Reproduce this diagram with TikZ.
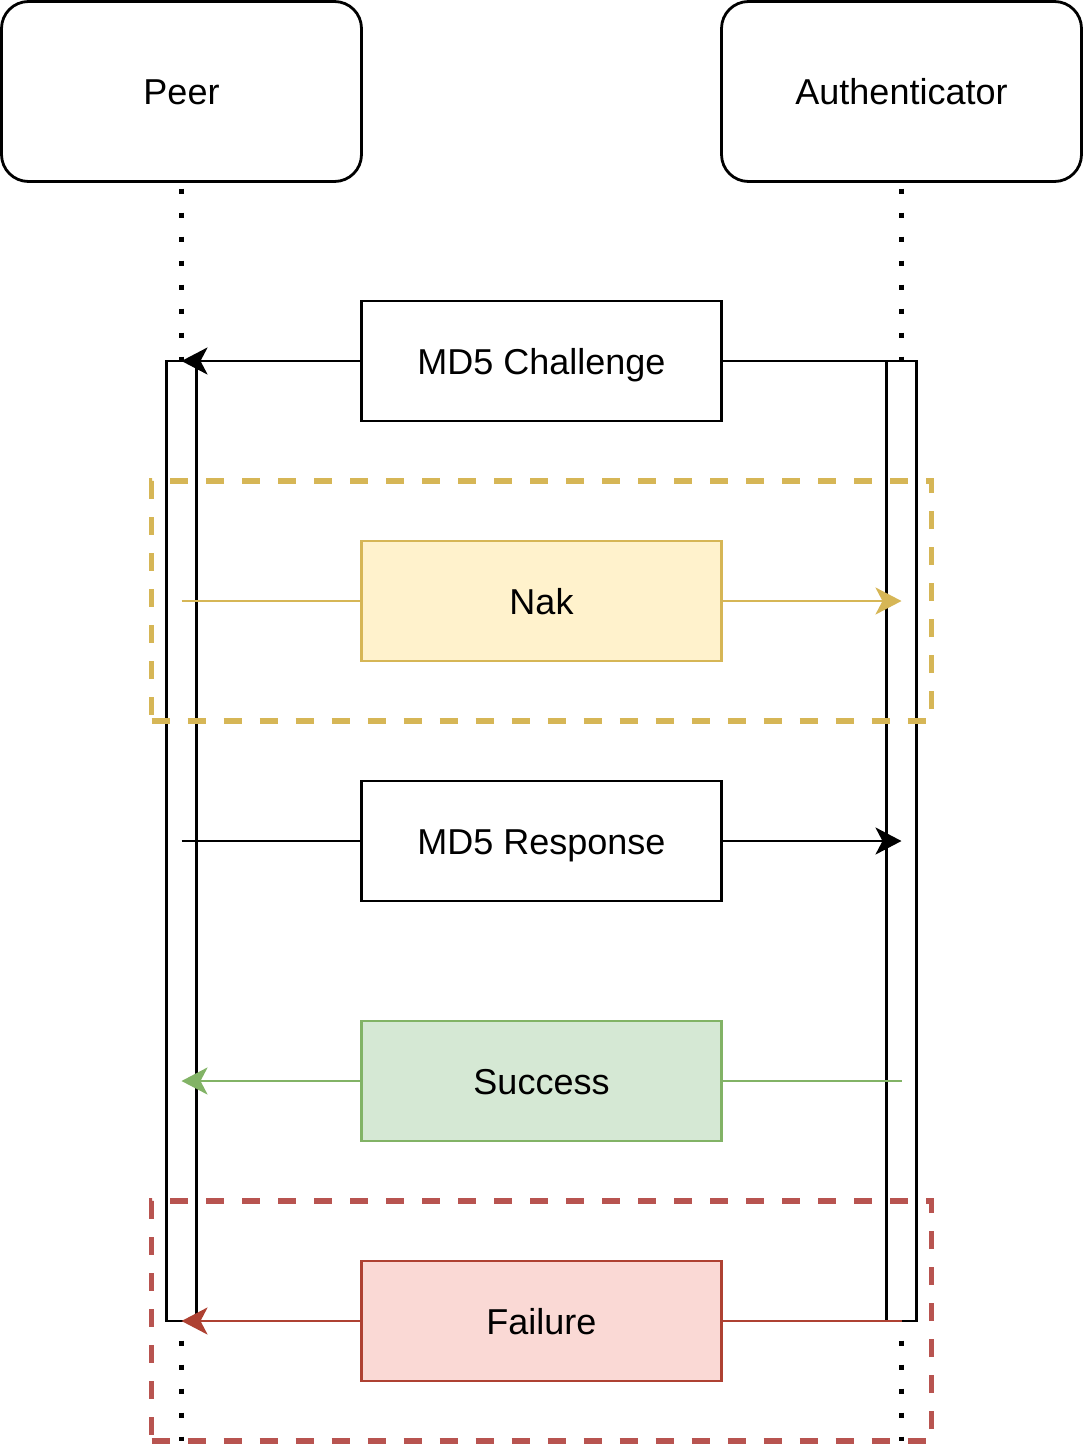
\documentclass[tikz,border=0pt]{standalone}
\usepackage{fontspec}
\setmainfont{Liberation Sans}
\usetikzlibrary{arrows.meta}
\definecolor{ylwS}{HTML}{D6B656}
\definecolor{ylwF}{HTML}{FFF2CC}
\definecolor{grnS}{HTML}{82B366}
\definecolor{grnF}{HTML}{D5E8D4}
\definecolor{redS}{HTML}{AE4132}
\definecolor{redF}{HTML}{FAD9D5}
\definecolor{redG}{HTML}{B85450}
\begin{document}
\begin{tikzpicture}[x=1pt,y=-1pt,
  actor/.style={draw, line width=2.8pt, rounded corners=27pt, fill=white,
    minimum width=360pt, minimum height=180pt, inner sep=0pt, outer sep=0pt,
    font=\fontsize{36}{43}\selectfont, text height=26pt, text depth=0pt},
  msgbox/.style={draw, line width=2.8pt, fill=white,
    minimum width=360pt, minimum height=120pt, inner sep=0pt, outer sep=0pt,
    font=\fontsize{36}{43}\selectfont, text height=26pt, text depth=0pt},
  actbar/.style={draw, line width=2.8pt, fill=white,
    minimum width=30pt, minimum height=960pt, inner sep=0pt, outer sep=0pt},
  lifeline/.style={line width=5.5pt, dash pattern=on 5.5pt off 18.5pt, dash phase=17pt},
  grpbox/.style={draw, line width=5.5pt, dash pattern=on 18pt off 18pt,
    minimum width=780pt, minimum height=240pt, inner sep=0pt, outer sep=0pt},
  msgline/.style={line width=2.9pt},
  tipped/.style={-{Stealth[length=26pt,width=27pt,inset=7pt]}}
]
\useasboundingbox (0,0) rectangle (1083,1449);

% actors
\node[actor] (peer) at (181.5,91.5) {Peer};
\node[actor] (auth) at (901.5,91.5) {Authenticator};

% lifeline ends
\coordinate (pend) at (181.5,1441);
\coordinate (aend) at (901.5,1441);
\draw[lifeline] (peer.south) -- (pend);
\draw[lifeline] (auth.south) -- (aend);

% activation bars
\node[actbar] (pact) at (181.5,841) {};
\node[actbar] (aact) at (901.5,841) {};

% message anchor points on lifelines
\coordinate (p2) at (181.5,601);
\coordinate (a2) at (901.5,601);
\coordinate (p3) at (181.5,841);
\coordinate (a3) at (901.5,841);
\coordinate (p4) at (181.5,1081);
\coordinate (a4) at (901.5,1081);

% MD5 Challenge
\node[msgbox] (chal) at (541.5,361) {MD5 Challenge};
\draw[msgline, tipped] (chal.west) -- (pact.north);
\draw[msgline] (chal.east) -- (aact.north);

% Nak
\node[msgbox, draw=ylwS, fill=ylwF] (nak) at (541.5,601) {Nak};
\draw[msgline, ylwS] (p2) -- (nak.west);
\draw[msgline, ylwS, tipped] (nak.east) -- (a2);

% MD5 Response
\node[msgbox] (resp) at (541.5,841) {MD5 Response};
\draw[msgline] (p3) -- (resp.west);
\draw[msgline, tipped] (resp.east) -- (a3);

% Success
\node[msgbox, draw=grnS, fill=grnF] (succ) at (541.5,1081) {Success};
\draw[msgline, grnS, tipped] (succ.west) -- (p4);
\draw[msgline, grnS] (succ.east) -- (a4);

% Failure
\node[msgbox, draw=redS, fill=redF] (fail) at (541.5,1321) {Failure};
\draw[msgline, redS, tipped] (fail.west) -- (pact.south);
\draw[msgline, redS] (fail.east) -- (aact.south);

% groups
\node[grpbox, draw=ylwS] (grpY) at (541.5,601) {};
\node[grpbox, draw=redG] (grpR) at (541.5,1321) {};
\end{tikzpicture}
\end{document}
